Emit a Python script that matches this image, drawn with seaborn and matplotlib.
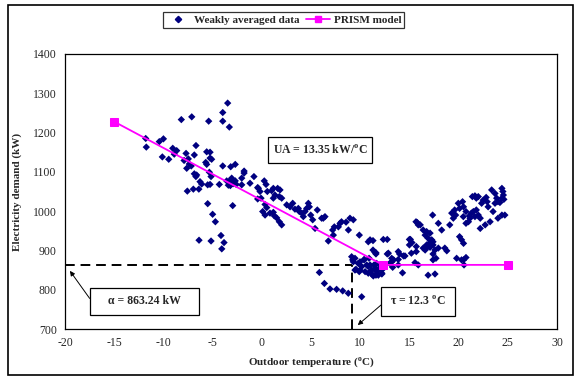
import matplotlib
matplotlib.use("Agg")
import matplotlib.pyplot as plt
from matplotlib.patches import Rectangle
from matplotlib.lines import Line2D
import seaborn as sns
import pandas as pd

# ---- data ----
temps = [-3.47, -3.97, -7.12, -8.18, -5.4, -3.97, -3.30, -11.8, -11.74, -10.42, -10.0, -10.11,
         -9.46, -9.05, -8.65, -8.9, -7.7, -6.69, -6.86, -7.9, -7.47, -7.37, -7.17, -7.63, -5.6,
         -5.26, -5.26, -5.1, -5.6, -5.7, -5.33, -5.16, -6.86, -6.62, -6.7, -6.28, -6.11, -5.5,
         -5.26, -4.32, -3.97, -3.16, -2.7, -1.8, -1.8, -0.8, -2.04, -1.2, -3.57, -3.2, -3.06,
         -2.7, -2.9, -3.4, -3.2, -2.6, -0.42, -0.42, -7.57, -6.96, -6.4, -5.5, -2.96, -5.0,
         -4.72, -6.38, -5.16, -4.15, -3.84, -4.07, -2.04, 0.25, 0.43, -0.35, -0.18, -0.08, 0.56,
         1.0, 1.17, 1.61, 1.85, 1.34, 1.78, 2.02, 1.17, 0.33, 0.5, 0.09, 0.33, 0.83, 1.17, 1.27,
         1.51, 1.78, 2.02, 2.53, 2.87, 3.14, 3.37, 3.71, 3.81, 4.05, 4.22, 4.39, 4.56, 4.73,
         4.83, 4.97, 5.17, 5.41, 5.64, 6.08, 6.42, 6.76, 7.37, 7.27, 7.78, 7.95, 8.56, 8.96,
         9.3, 9.91, 10.82, 11.5, 9.13, 9.47, 9.3, 9.98, 10.39, 10.66, 9.98, 10.82, 11.67, 11.5,
         5.85, 6.36, 6.93, 7.6, 8.22, 8.79, 10.15, 6.25, 7.2, 8.1, 8.8, 11.0, 11.3, 12.35,
         12.75, 15.0, 15.67, 15.9, 15.0, 15.7, 11.3, 11.6, 9.24, 10.4, 10.9, 11.0, 11.4, 12.0,
         9.57, 9.9, 11.17, 11.6, 12.2, 11.6, 12.35, 13.0, 13.4, 13.87, 13.3, 13.87, 14.4, 13.87,
         14.0, 14.55, 14.3, 15.57, 12.86, 13.2, 15.1, 15.26, 15.8, 16.1, 16.4, 16.75, 17.1,
         16.6, 16.9, 17.27, 17.1, 17.4, 17.36, 17.94, 18.28, 16.75, 16.4, 17.1, 17.6, 17.94,
         17.4, 17.7, 17.4, 18.6, 18.8, 19.1, 19.46, 19.3, 19.6, 19.7, 19.97, 20.1, 20.4, 20.5,
         20.75, 20.48, 20.1, 20.3, 20.5, 19.8, 20.3, 20.75, 20.75, 21.0, 21.16, 21.1, 21.3,
         21.5, 21.66, 21.8, 22.0, 22.2, 21.4, 21.66, 21.8, 22.0, 22.34, 22.5, 22.8, 22.9, 22.2,
         22.7, 23.2, 23.36, 23.7, 23.87, 24.0, 23.7, 24.4, 24.5, 24.55, 24.4, 24.6, 24.2, 24.0,
         24.4, 24.7, 23.0, 23.5, 9.8, 10.15, 10.82, 11.17, 11.67, 12.0, 12.2, 11.84, 11.33,
         10.5, 9.47, 11.6, 12.75, 13.2, 15.9, 16.9, 17.6, 15.2, 15.7, 16.6, 16.9, 17.4, 20.5,
         20.55]
demand = [1275, 1251, 1240, 1233, 1229, 1229, 1214, 1185, 1163, 1177, 1184, 1138,
          1132, 1160, 1154, 1145, 1147, 1167, 1143, 1129, 1133, 1120, 1115, 1109, 1151,
          1150, 1135, 1132, 1119, 1124, 1099, 1088, 1095, 1092, 1088, 1075, 1069, 1067,
          1068, 1068, 1115, 1113, 1119, 1102, 1097, 1088, 1084, 1071, 1077, 1079, 1084,
          1077, 1070, 1066, 1065, 1068, 1060, 1031, 1051, 1056, 1056, 1019, 1014, 992,
          973, 926, 924, 938, 920, 904, 1067, 1077, 1068, 1058, 1050, 1033, 1050,
          1052, 1058, 1058, 1054, 1041, 1037, 1033, 1033, 1017, 1009, 999, 990, 995, 997, 988,
          983, 973, 965, 1016, 1011, 1020, 1005, 1007, 999, 995, 986, 999, 1007, 1020,
          1011, 990, 978, 956, 1003, 982, 986, 924, 960, 939, 960, 969, 972, 982,
          978, 939, 922, 895, 884, 880, 871, 871, 876, 863, 850, 842, 867, 854,
          844, 816, 802, 801, 797, 791, 782, 982, 952, 973, 952, 927, 925, 928,
          928, 928, 973, 965, 914, 910, 901, 891, 876, 877, 880, 863, 863, 863,
          852, 846, 840, 837, 840, 854, 854, 867, 876, 877, 857, 863, 886, 897,
          891, 886, 843, 869, 893, 871, 928, 920, 971, 965, 952, 948, 944,
          939, 931, 927, 920, 922, 990, 969, 952, 914, 906, 908, 901, 906,
          891, 880, 876, 906, 899, 965, 982, 995, 1003, 990, 1020, 1007, 1024, 1011,
          999, 986, 935, 927, 918, 880, 876, 882, 969, 973, 982, 988, 995,
          999, 986, 1003, 990, 982, 1037, 1039, 1033, 1037, 1020, 1028, 1035, 1024, 956,
          965, 973, 1054, 1045, 1033, 1024, 1020, 1058, 1050, 1041, 1033, 1030, 1022, 982,
          990, 990, 1011, 999, 867, 859, 859, 850, 846, 854, 842, 837, 835,
          846, 850, 894, 891, 880, 863, 837, 840, 893, 897, 901, 910, 914, 876,
          863]

model_temp = [-15.0, 12.3, 25.0]
model_demand = [1227.7, 863.24, 863.24]

alpha_value = 863.24
dash_corner_temp = 9.2

x_ticks = [-20, -15, -10, -5, 0, 5, 10, 15, 20, 25, 30]
y_ticks = [700, 800, 900, 1000, 1100, 1200, 1300, 1400]

# ---- plot ----
sns.set_theme(style="white")
plt.rcParams["font.family"] = ["Liberation Serif", "DejaVu Serif"]

fig = plt.figure(figsize=(5.79, 3.77), dpi=100)
ax = fig.add_axes([0.1123, 0.1273, 0.8497, 0.7295])

df = pd.DataFrame({"t": temps, "d": demand})
sns.scatterplot(data=df, x="t", y="d", ax=ax, marker="D", color="#000080", s=14,
                edgecolor="none", linewidth=0, zorder=3)

mdf = pd.DataFrame({"t": model_temp, "d": model_demand})
sns.lineplot(data=mdf, x="t", y="d", ax=ax, color="#ff00ff", linewidth=1.3,
             marker="s", markersize=6, markeredgecolor="#ff00ff", zorder=4,
             sort=False, estimator=None)

# dashed guide lines
ax.plot([-20, dash_corner_temp], [alpha_value, alpha_value], color="black", lw=1.4,
        ls=(0, (5, 3)), zorder=2)
ax.plot([dash_corner_temp, dash_corner_temp], [700, alpha_value], color="black", lw=1.4,
        ls=(0, (5, 3)), zorder=2)

ax.set_xlim(-20, 30)
ax.set_ylim(700, 1400)
ax.set_xticks(x_ticks)
ax.set_yticks(y_ticks)
ax.set_xticklabels([str(v) for v in x_ticks], fontsize=8.5)
ax.set_yticklabels([str(v) for v in y_ticks], fontsize=8.5)
ax.tick_params(axis="x", direction="in", length=4, width=0.8, color="black", pad=6)
ax.tick_params(axis="y", direction="out", length=4, width=0.8, color="black", pad=2)
ax.set_xlabel("Outdoor temperature ($^{\\mathregular{o}}$C)", fontsize=8, fontweight="bold", labelpad=4)
ax.set_ylabel("Electricity demand (kW)", fontsize=8, fontweight="bold", labelpad=8)
for s in ax.spines.values():
    s.set_color("black")
    s.set_linewidth(0.9)

# annotation boxes
def box(x0, x1, y0, y1, text):
    ax.add_patch(Rectangle((x0, y0), x1 - x0, y1 - y0, facecolor="white",
                           edgecolor="black", lw=0.9, zorder=5))
    ax.text((x0 + x1) / 2, (y0 + y1) / 2, text, ha="center", va="center",
            fontsize=8.5, fontweight="bold", zorder=6)

box(-17.46, -6.38, 735.7, 804.4, "α = 863.24 kW")
box(12.11, 19.63, 733, 807, "τ = 12.3 $^{\\mathregular{o}}$C")
box(0.63, 11.2, 1122, 1189, "UA = 13.35 kW/$^{\\mathregular{o}}$C")

ax.annotate("", xy=(-19.5, 848), xytext=(-17.5, 778),
            arrowprops=dict(arrowstyle="-|>", color="black", lw=0.7,
                            mutation_scale=7, shrinkA=0, shrinkB=0), zorder=6)
ax.annotate("", xy=(9.75, 710), xytext=(12.11, 761),
            arrowprops=dict(arrowstyle="-|>", color="black", lw=0.7,
                            mutation_scale=7, shrinkA=0, shrinkB=0), zorder=6)

# legend
handles = [
    Line2D([], [], marker="D", color="#000080", ls="none", markersize=3.2),
    Line2D([], [], marker="s", color="#ff00ff", lw=1.3, markersize=5),
]
leg = fig.legend(handles, ["Weakly averaged data", "PRISM model"], loc="center",
                 bbox_to_anchor=(0.49, 0.947), ncol=2, frameon=True, fancybox=False,
                 prop={"weight": "bold", "size": 8}, handlelength=2.2,
                 borderpad=0.25, columnspacing=0.6, handletextpad=0.3)
leg.get_frame().set_edgecolor("black")
leg.get_frame().set_linewidth(0.9)
if ax.get_legend() is not None:
    ax.get_legend().remove()

# outer chart border
fig.add_artist(Rectangle((8 / 579, 2 / 377), 565 / 579, 370 / 377, transform=fig.transFigure,
                         fill=False, edgecolor="black", lw=1.2))

fig.savefig("out.png", dpi=100)
